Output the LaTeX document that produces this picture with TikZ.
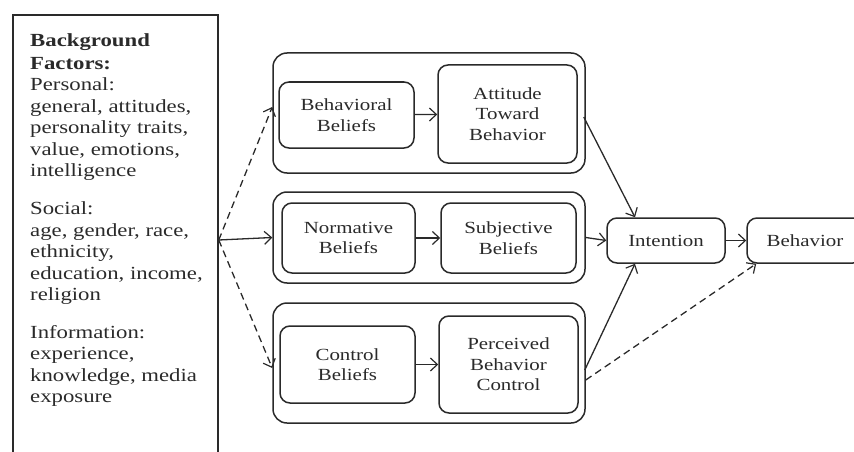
\documentclass[tikz,border=0pt]{standalone}
\usepackage{fontspec}
\setmainfont{Liberation Serif}[FakeStretch=1.23]
\usetikzlibrary{arrows.meta}
\definecolor{ink}{HTML}{2A2A2A}
\begin{document}
\begin{tikzpicture}[x=1pt,y=-1pt,
  every node/.style={text=ink},
  line/.style={draw=ink,line width=1.5pt},
  arr/.style={draw=ink,line width=1.3pt,-{Straight Barb[length=7pt,width=13pt,line width=1.2pt]}},
  darr/.style={arr,dash pattern=on 7pt off 4.5pt},
  grp/.style={line,rounded corners=14pt,inner sep=0pt},
  box/.style={line,rounded corners=10pt,align=center,inner sep=0pt,
    font=\fontsize{17}{20.5}\selectfont}]
\path[use as bounding box,clip] (0,0) rectangle (854,452);

% background factors panel
\node[line,minimum width=205pt,minimum height=450pt,inner sep=0pt] (bg) at (115.5,240) {};
\node[anchor=north west,align=left,inner sep=0pt,
  font=\fontsize{18.5}{21.5}\selectfont] (bgtext) at (30,33)
  {\textbf{Background}\\[1.5pt]
   \textbf{Factors:}\\
   Personal:\\
   general, attitudes,\\
   personality traits,\\
   value, emotions,\\
   intelligence\\[16.5pt]
   Social:\\
   age, gender, race,\\
   ethnicity,\\
   education, income,\\
   religion\\[16pt]
   Information:\\
   experience,\\
   knowledge, media\\
   exposure};

% belief groups
\node[grp,minimum width=312pt,minimum height=120pt] (g1) at (429,113) {};
\node[grp,minimum width=312pt,minimum height=91pt] (g2) at (429,237.5) {};
\node[grp,minimum width=312pt,minimum height=120pt] (g3) at (429,363) {};

\node[box,minimum width=135pt,minimum height=66pt] (bb) at (346.5,115) {Behavioral\\Beliefs};
\node[box,minimum width=139pt,minimum height=98pt] (atb) at (507.5,114) {Attitude\\Toward\\Behavior};
\node[box,minimum width=133pt,minimum height=70pt] (nb) at (348.5,238) {Normative\\Beliefs};
\node[box,minimum width=135pt,minimum height=70pt] (sb) at (508.5,238) {Subjective\\Beliefs};
\node[box,minimum width=135pt,minimum height=77pt] (cb) at (347.5,364.5) {Control\\Beliefs};
\node[box,minimum width=139pt,minimum height=97pt] (pbc) at (508.5,364.5) {Perceived\\Behavior\\Control};

% outcome nodes
\node[box,minimum width=118pt,minimum height=45pt] (int) at (666,240.5) {Intention};
\node[box,minimum width=116pt,minimum height=45pt] (beh) at (805,240.5) {Behavior};

% connectors
\draw[arr] (bg.east) -- (g2.west);
\draw[darr] (bg.east) -- ([yshift=6pt]g1.west);
\draw[darr] (bg.east) -- ([yshift=-5pt]g3.west);
\draw[arr] (bb) -- (atb);
\draw[arr] (nb) -- (sb);
\draw[arr] (cb) -- (pbc);
\draw[arr] ([xshift=-2pt,yshift=-4pt]g1.east) -- ([xshift=-31pt]int.north);
\draw[arr] (g2.east) -- (int.west);
\draw[arr] ([xshift=-1pt,yshift=-7pt]g3.east) -- ([xshift=-31pt]int.south);
\draw[darr] ([yshift=-17pt]g3.east) -- ([xshift=10pt]beh.south west);
\draw[arr] (int) -- (beh);
\end{tikzpicture}
\end{document}
